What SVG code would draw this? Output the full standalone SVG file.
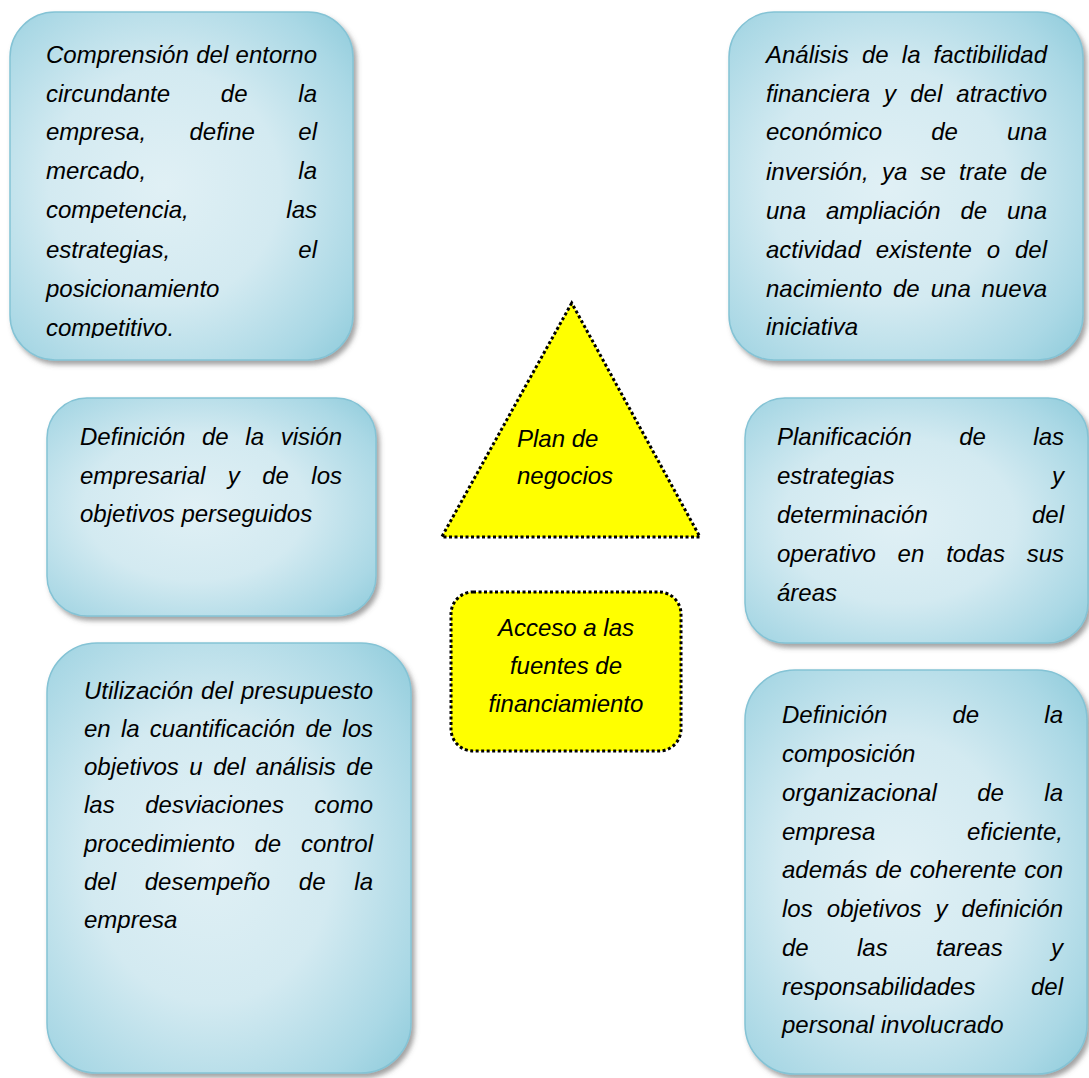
<svg xmlns="http://www.w3.org/2000/svg" width="1089" height="1078" viewBox="0 0 1089 1078">
<style>
.t{font-family:"Liberation Sans",Arial,sans-serif;font-style:italic;font-size:24px;fill:#000}
.e{text-anchor:end}
.m{text-anchor:middle}
.box{fill:url(#blue);stroke:#84c3d5;stroke-width:1.5;filter:url(#sh)}
.yel{fill:#ffff00;stroke:#000;stroke-width:3;stroke-dasharray:3 2.5}
</style>
<defs>
<radialGradient id="blue" cx="0.45" cy="0.5" r="0.75">
<stop offset="0" stop-color="#e0f0f5"/>
<stop offset="0.45" stop-color="#d3eaf1"/>
<stop offset="0.8" stop-color="#aad8e5"/>
<stop offset="1" stop-color="#8ccada"/>
</radialGradient>
<filter id="sh" x="-10%" y="-10%" width="125%" height="125%">
<feDropShadow dx="3" dy="4" stdDeviation="2.5" flood-color="#555" flood-opacity="0.55"/>
</filter>
<clipPath id="c1"><rect x="0" y="0" width="400" height="338"/></clipPath>
</defs>
<rect width="1089" height="1078" fill="#fff"/>
<g id="connectors"/>

<g id="node-entorno">
<rect class="box" x="10" y="12" width="343" height="348" rx="45"/>
<g clip-path="url(#c1)">
<text class="t" x="46" y="63">Comprensión</text><text class="t" x="196.2" y="63">del</text><text class="t e" x="317" y="63">entorno</text>
<text class="t" x="46" y="102">circundante</text><text class="t" x="220.8" y="102">de</text><text class="t e" x="317" y="102">la</text>
<text class="t" x="46" y="140">empresa,</text><text class="t" x="189.5" y="140">define</text><text class="t e" x="317" y="140">el</text>
<text class="t" x="46" y="179">mercado,</text><text class="t e" x="317" y="179">la</text>
<text class="t" x="46" y="218">competencia,</text><text class="t e" x="317" y="218">las</text>
<text class="t" x="46" y="258">estrategias,</text><text class="t e" x="317" y="258">el</text>
<text class="t" x="46" y="297">posicionamiento</text>
<text class="t" x="46" y="336">competitivo.</text>
</g>
</g>

<g id="node-factibilidad">
<rect class="box" x="729" y="12" width="354" height="348" rx="45"/>
<text class="t" x="766" y="63">Análisis</text><text class="t" x="861.9" y="63">de</text><text class="t" x="901.8" y="63">la</text><text class="t e" x="1047" y="63">factibilidad</text>
<text class="t" x="766" y="102">financiera</text><text class="t" x="884.1" y="102">y</text><text class="t" x="910.2" y="102">del</text><text class="t e" x="1047" y="102">atractivo</text>
<text class="t" x="766" y="140">económico</text><text class="t" x="931.2" y="140">de</text><text class="t e" x="1047" y="140">una</text>
<text class="t" x="766" y="180">inversión,</text><text class="t" x="881.9" y="180">ya</text><text class="t" x="920.5" y="180">se</text><text class="t" x="959" y="180">trate</text><text class="t e" x="1047" y="180">de</text>
<text class="t" x="766" y="219">una</text><text class="t" x="825.9" y="219">ampliación</text><text class="t" x="960.5" y="219">de</text><text class="t e" x="1047" y="219">una</text>
<text class="t" x="766" y="258">actividad</text><text class="t" x="875.7" y="258">existente</text><text class="t" x="986.7" y="258">o</text><text class="t e" x="1047" y="258">del</text>
<text class="t" x="766" y="297">nacimiento</text><text class="t" x="893" y="297">de</text><text class="t" x="930.7" y="297">una</text><text class="t e" x="1047" y="297">nueva</text>
<text class="t" x="766" y="335">iniciativa</text>
</g>

<g id="node-vision">
<rect class="box" x="47" y="398" width="329" height="218" rx="40"/>
<text class="t" x="80" y="445">Definición</text><text class="t" x="202" y="445">de</text><text class="t" x="245.3" y="445">la</text><text class="t e" x="342" y="445">visión</text>
<text class="t" x="80" y="484">empresarial</text><text class="t" x="227.8" y="484">y</text><text class="t" x="262.2" y="484">de</text><text class="t e" x="342" y="484">los</text>
<text class="t" x="80" y="522">objetivos perseguidos</text>
</g>

<g id="node-planificacion">
<rect class="box" x="745" y="398" width="343" height="245" rx="40"/>
<text class="t" x="777" y="445">Planificación</text><text class="t" x="959.2" y="445">de</text><text class="t e" x="1064" y="445">las</text>
<text class="t" x="777" y="484">estrategias</text><text class="t e" x="1064" y="484">y</text>
<text class="t" x="777" y="523">determinación</text><text class="t e" x="1064" y="523">del</text>
<text class="t" x="777" y="562">operativo</text><text class="t" x="897.6" y="562">en</text><text class="t" x="946.2" y="562">todas</text><text class="t e" x="1064" y="562">sus</text>
<text class="t" x="777" y="601">áreas</text>
</g>

<g id="node-presupuesto">
<rect class="box" x="47" y="643" width="364" height="430" rx="50"/>
<text class="t" x="84" y="699">Utilización</text><text class="t" x="201.1" y="699">del</text><text class="t e" x="373" y="699">presupuesto</text>
<text class="t" x="84" y="737">en</text><text class="t" x="120.9" y="737">la</text><text class="t" x="149.8" y="737">cuantificación</text><text class="t" x="305.4" y="737">de</text><text class="t e" x="373" y="737">los</text>
<text class="t" x="84" y="775">objetivos</text><text class="t" x="189.3" y="775">u</text><text class="t" x="213.2" y="775">del</text><text class="t" x="255.8" y="775">análisis</text><text class="t e" x="373" y="775">de</text>
<text class="t" x="84" y="813">las</text><text class="t" x="145.2" y="813">desviaciones</text><text class="t e" x="373" y="813">como</text>
<text class="t" x="84" y="852">procedimiento</text><text class="t" x="254.5" y="852">de</text><text class="t e" x="373" y="852">control</text>
<text class="t" x="84" y="890">del</text><text class="t" x="144.7" y="890">desempeño</text><text class="t" x="298.8" y="890">de</text><text class="t e" x="373" y="890">la</text>
<text class="t" x="84" y="928">empresa</text>
</g>

<g id="node-organizacion">
<rect class="box" x="745" y="670" width="342" height="404" rx="50"/>
<text class="t" x="782" y="723">Definición</text><text class="t" x="952.5" y="723">de</text><text class="t e" x="1063" y="723">la</text>
<text class="t" x="782" y="762">composición</text>
<text class="t" x="782" y="801">organizacional</text><text class="t" x="977.2" y="801">de</text><text class="t e" x="1063" y="801">la</text>
<text class="t" x="782" y="840">empresa</text><text class="t e" x="1063" y="840">eficiente,</text>
<text class="t" x="782" y="878">además</text><text class="t" x="875.2" y="878">de</text><text class="t" x="909.7" y="878">coherente</text><text class="t e" x="1063" y="878">con</text>
<text class="t" x="782" y="917">los</text><text class="t" x="826.8" y="917">objetivos</text><text class="t" x="935.6" y="917">y</text><text class="t e" x="1063" y="917">definición</text>
<text class="t" x="782" y="956">de</text><text class="t" x="857" y="956">las</text><text class="t" x="936" y="956">tareas</text><text class="t e" x="1063" y="956">y</text>
<text class="t" x="782" y="995">responsabilidades</text><text class="t e" x="1063" y="995">del</text>
<text class="t" x="782" y="1033">personal involucrado</text>
</g>

<g id="node-plan">
<polygon class="yel" points="571.7,303 441.7,537 700,537"/>
<text class="t" x="517" y="447">Plan de</text>
<text class="t" x="517" y="484">negocios</text>
</g>

<g id="node-acceso">
<rect class="yel" x="451" y="592" width="230" height="159" rx="22"/>
<text class="t m" x="566" y="636">Acceso a las</text>
<text class="t m" x="566" y="674">fuentes de</text>
<text class="t m" x="566" y="712">financiamiento</text>
</g>
</svg>
